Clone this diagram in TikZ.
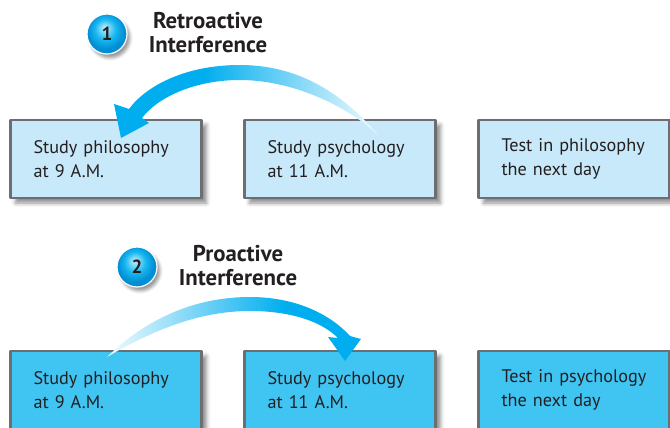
\documentclass[tikz,border=0pt]{standalone}
\usepackage{fontspec}
\setmainfont{PT Sans}
\usetikzlibrary{shadows.blur}
\definecolor{boxlight}{RGB}{200,233,249}
\definecolor{boxdark}{RGB}{64,196,241}
\definecolor{boxline}{RGB}{109,110,113}
\definecolor{arrowcyan}{RGB}{0,174,239}
\definecolor{ballhi}{RGB}{196,240,253}
\definecolor{ballmid}{RGB}{24,184,240}
\definecolor{ballrim}{RGB}{0,142,212}
\definecolor{txt}{RGB}{35,31,32}
\pgfdeclarehorizontalshading{fadeleft}{100bp}{color(0bp)=(arrowcyan); color(42bp)=(arrowcyan); color(75bp)=(arrowcyan!5!white); color(100bp)=(arrowcyan!5!white)}
\pgfdeclarehorizontalshading{faderight}{100bp}{color(0bp)=(arrowcyan!5!white); color(25bp)=(arrowcyan!5!white); color(60bp)=(arrowcyan); color(100bp)=(arrowcyan)}
\pgfdeclareradialshading{numball}{\pgfpoint{-3bp}{8bp}}{color(0bp)=(ballhi); color(13bp)=(ballmid); color(23bp)=(ballrim); color(25bp)=(ballrim); color(50bp)=(ballrim)}
\begin{document}
\begin{tikzpicture}[x=1pt,y=-1pt,line join=round,
	box/.style={draw=boxline,line width=2.5pt,minimum width=191pt,minimum height=78pt,
		text width=145pt,inner xsep=23pt,align=left,text=txt,font=\fontsize{18.2}{24}\selectfont,
		blur shadow={shadow xshift=5pt,shadow yshift=-5pt,shadow blur radius=4pt,shadow opacity=45}},
	title/.style={align=center,text=txt,font=\fontsize{22.8}{24}\selectfont\bfseries},
	ball/.style={circle,minimum size=40pt,inner sep=0pt,shading=numball,draw=white,line width=1.2pt,
		text=txt,font=\fontsize{19}{19}\selectfont\bfseries,
		blur shadow={shadow xshift=3pt,shadow yshift=-4pt,shadow blur radius=3pt,shadow opacity=40}}]
	\useasboundingbox (0,0) rectangle (670,428);
	% retroactive row
	\node[box,fill=boxlight] (phil1) at (106,159) {Study philosophy\\at 9 A.M.};
	\node[box,fill=boxlight] (psy1) at (340,159) {Study psychology\\at 11 A.M.};
	\node[box,fill=boxlight] (test1) at (574,159) {Test in philosophy\\the next day};
	\node[ball] (n1) at (107,34) {1};
	\node[title] (retro) at (208,33) {Retroactive\\Interference};
	\shade[shading=fadeleft] (378,135) .. controls (340,90) and (295,65) .. (240,65)
		.. controls (185,65) and (146,86) .. (129,109) -- (114,104) -- (121,138) -- (149,123) -- (142,118)
		.. controls (158,97) and (195,80) .. (240,80) .. controls (290,80) and (345,104) .. (378,135) -- cycle;
	% proactive row
	\node[box,fill=boxdark] (phil2) at (106,390) {Study philosophy\\at 9 A.M.};
	\node[box,fill=boxdark] (psy2) at (340,390) {Study psychology\\at 11 A.M.};
	\node[box,fill=boxdark] (test2) at (574,390) {Test in psychology\\the next day};
	\node[ball] (n2) at (137,267) {2};
	\node[title] (pro) at (238,266) {Proactive\\Interference};
	\shade[shading=faderight] (107,357) .. controls (150,315) and (200,297) .. (250,297)
		.. controls (298,297) and (332,316) .. (350,336) -- (361,339) -- (345,361) -- (328,337) -- (338,338)
		.. controls (322,322) and (292,311) .. (250,311) .. controls (205,311) and (160,326) .. (107,357) -- cycle;
\end{tikzpicture}
\end{document}
